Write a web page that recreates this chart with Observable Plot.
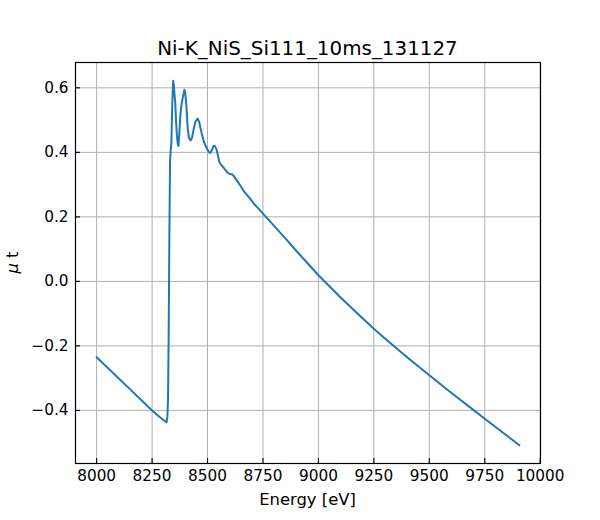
<!DOCTYPE html>
<html>
<head>
<meta charset="utf-8">
<script src="https://cdn.jsdelivr.net/npm/d3@7"></script>
<script src="https://cdn.jsdelivr.net/npm/@observablehq/plot@0.6"></script>
<style>
  body { margin: 0; background: #fff; }
  svg { font-family: "DejaVu Sans", sans-serif; }
</style>
</head>
<body>
<div id="chart"></div>
<script>
const title = "Ni-K_NiS_Si111_10ms_131127";
const xLabel = "Energy [eV]";
const yLabelGreek = "μ";
const yLabelRest = " t";

const energy = [8000, 8050, 8100, 8150, 8200, 8250, 8280, 8300, 8310, 8315, 8319, 8322, 8325, 8328, 8331, 8334, 8337, 8341, 8345, 8348, 8351, 8354, 8358, 8362, 8366, 8369, 8373, 8378, 8384, 8390, 8396, 8400, 8405, 8410, 8416, 8424, 8430, 8437, 8445, 8455, 8462, 8470, 8477, 8485, 8495, 8505, 8512, 8520, 8527, 8533, 8540, 8547, 8553, 8560, 8575, 8590, 8600, 8610, 8620, 8635, 8650, 8665, 8690, 8710, 8732, 8750, 8800, 8850, 8900, 8950, 9000, 9100, 9200, 9250, 9300, 9400, 9500, 9600, 9700, 9750, 9800, 9906];
const mut = [-0.235, -0.268, -0.301, -0.334, -0.367, -0.400, -0.418, -0.429, -0.434, -0.437, -0.420, -0.360, -0.150, 0.150, 0.370, 0.405, 0.430, 0.550, 0.622, 0.610, 0.580, 0.560, 0.500, 0.450, 0.425, 0.420, 0.460, 0.520, 0.555, 0.575, 0.594, 0.580, 0.540, 0.480, 0.445, 0.437, 0.445, 0.470, 0.495, 0.505, 0.495, 0.470, 0.450, 0.430, 0.415, 0.402, 0.398, 0.408, 0.420, 0.420, 0.410, 0.390, 0.370, 0.363, 0.350, 0.337, 0.333, 0.332, 0.325, 0.310, 0.295, 0.278, 0.258, 0.240, 0.224, 0.210, 0.172, 0.134, 0.095, 0.057, 0.019, -0.050, -0.115, -0.147, -0.177, -0.235, -0.291, -0.346, -0.399, -0.426, -0.452, -0.508];

const xTicks = [8000, 8250, 8500, 8750, 9000, 9250, 9500, 9750, 10000];
const yTicks = [-0.4, -0.2, 0.0, 0.2, 0.4, 0.6];

const data = energy.map((e, i) => ({e, m: mut[i]}));

// matplotlib-style 5% margins
const xmin = d3.min(energy), xmax = d3.max(energy);
const ymin = d3.min(mut), ymax = d3.max(mut);
const xpad = (xmax - xmin) * 0.05, ypad = (ymax - ymin) * 0.05;

const ml = 75, mr = 60, mt = 62, mb = 57;
const W = 600, H = 520;

const chart = Plot.plot({
  width: W,
  height: H,
  marginLeft: ml,
  marginRight: mr,
  marginTop: mt,
  marginBottom: mb,
  style: {fontFamily: "DejaVu Sans, sans-serif", background: "#fff", overflow: "visible"},
  x: {domain: [xmin - xpad, xmax + xpad]},
  y: {domain: [ymin - ypad, ymax + ypad]},
  marks: [
    Plot.gridX(xTicks, {stroke: "#b0b0b0", strokeOpacity: 1, strokeWidth: 1}),
    Plot.gridY(yTicks, {stroke: "#b0b0b0", strokeOpacity: 1, strokeWidth: 1}),
    Plot.line(data, {x: "e", y: "m", stroke: "#1f77b4", strokeWidth: 2}),
    Plot.axisX(xTicks, {tickSize: -5, tickPadding: 12, fontSize: 15.3, tickFormat: d3.format("d"), label: null, stroke: "black", strokeWidth: 1.1}),
    Plot.axisY(yTicks, {tickSize: -5, tickPadding: 12, fontSize: 15.3, tickFormat: d3.format(".1f"), label: null, stroke: "black", strokeWidth: 1.1}),
    Plot.frame({stroke: "black", strokeWidth: 1.2})
  ]
});

const svg = d3.select(chart);
const cx = ml + (W - ml - mr) / 2;
svg.append("text")
  .attr("x", cx).attr("y", 55)
  .attr("text-anchor", "middle")
  .style("font-size", "19.9px")
  .style("font-family", "'DejaVu Sans', sans-serif")
  .attr("fill", "black")
  .text(title);
svg.append("text")
  .attr("x", cx).attr("y", 505)
  .attr("text-anchor", "middle")
  .style("font-size", "16.4px")
  .style("font-family", "'DejaVu Sans', sans-serif")
  .attr("fill", "black")
  .text(xLabel);
const yl = svg.append("text")
  .attr("transform", `translate(17.5,${mt + (H - mt - mb) / 2}) rotate(-90)`)
  .attr("text-anchor", "middle")
  .style("font-size", "16.4px")
  .style("font-family", "'DejaVu Sans', sans-serif")
  .attr("fill", "black");
yl.append("tspan").attr("font-style", "italic").text(yLabelGreek);
yl.append("tspan").text(yLabelRest);

document.getElementById("chart").appendChild(chart);
</script>
</body>
</html>
